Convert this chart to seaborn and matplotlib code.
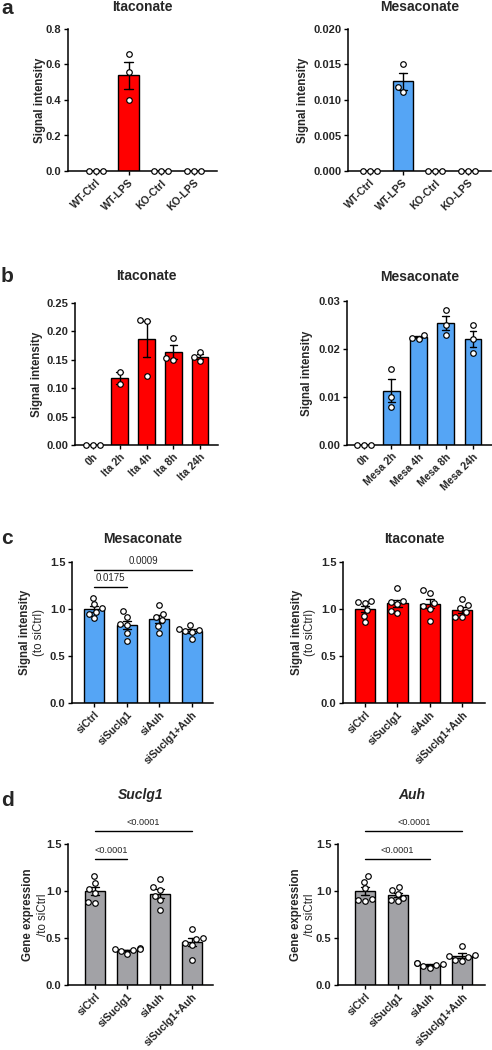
import matplotlib
matplotlib.use("Agg")
import matplotlib.pyplot as plt
from matplotlib.ticker import FormatStrFormatter, MultipleLocator
import pandas as pd
import seaborn as sns

RED = "#FF0000"
BLUE = "#55A5F5"
GREY = "#A2A2A6"

# ---- data ----
a_groups = ["WT-Ctrl", "WT-LPS", "KO-Ctrl", "KO-LPS"]
a_ita = [[0, 0, 0], [0.66, 0.56, 0.40], [0, 0, 0], [0, 0, 0]]
a_mesa = [[0, 0, 0], [0.0150, 0.0118, 0.0111], [0, 0, 0], [0, 0, 0]]

b_ita_groups = ["0h", "Ita 2h", "Ita 4h", "Ita 8h", "Ita 24h"]
b_ita = [[0, 0, 0], [0.128, 0.107], [0.220, 0.218, 0.122],
         [0.189, 0.150, 0.153], [0.164, 0.155, 0.148]]
b_mesa_groups = ["0h", "Mesa 2h", "Mesa 4h", "Mesa 8h", "Mesa 24h"]
b_mesa = [[0, 0, 0], [0.0159, 0.0100, 0.0080], [0.0230, 0.0223, 0.0221],
          [0.0282, 0.0251, 0.0230], [0.0251, 0.0220, 0.0191]]

si_groups = ["siCtrl", "siSuclg1", "siAuh", "siSuclg1+Auh"]
c_mesa = [[1.12, 1.05, 1.01, 0.97, 0.95, 0.90],
          [0.975, 0.915, 0.844, 0.833, 0.745, 0.66],
          [1.04, 0.95, 0.92, 0.88, 0.82, 0.75],
          [0.83, 0.79, 0.78, 0.77, 0.76, 0.68]]
c_ita = [[1.09, 1.07, 1.06, 0.99, 0.93, 0.86],
         [1.22, 1.09, 1.07, 1.05, 0.98, 0.96],
         [1.20, 1.17, 1.06, 1.03, 1.00, 0.87],
         [1.11, 1.04, 1.01, 0.97, 0.92, 0.91]]
d_suclg1 = [[1.16, 1.09, 1.02, 0.98, 0.88, 0.87],
            [0.39, 0.38, 0.38, 0.37, 0.36, 0.33],
            [1.13, 1.04, 1.01, 0.95, 0.90, 0.80],
            [0.60, 0.50, 0.49, 0.45, 0.43, 0.27]]
d_auh = [[1.16, 1.10, 1.03, 0.92, 0.90, 0.89],
         [1.04, 1.01, 0.97, 0.93, 0.90, 0.89],
         [0.23, 0.23, 0.22, 0.21, 0.20, 0.18],
         [0.42, 0.32, 0.31, 0.30, 0.27, 0.26]]

c_mesa_sig = [(0, 1, "0.0175"), (0, 3, "0.0009")]
d_suclg1_sig = [(0, 1, "<0.0001"), (0, 3, "<0.0001")]
d_auh_sig = [(0, 2, "<0.0001"), (0, 3, "<0.0001")]

W, H = 492, 1050

sns.set_theme(style="ticks")
plt.rcParams["font.family"] = ["Liberation Sans", "DejaVu Sans"]
plt.rcParams["font.weight"] = "bold"
plt.rcParams["axes.labelweight"] = "bold"

fig = plt.figure(figsize=(W / 100, H / 100), dpi=100)


def px_rect(x0, y0, x1, y1):
    return [x0 / W, 1 - y1 / H, (x1 - x0) / W, (y1 - y0) / H]


def to_long(groups, values):
    rows = [(g, v) for g, vals in zip(groups, values) for v in vals]
    return pd.DataFrame(rows, columns=["group", "value"])


def panel(box, groups, values, color, ylim, step, fmt, xlim):
    ax = fig.add_axes(px_rect(*box))
    df = to_long(groups, values)
    sns.barplot(data=df, x="group", y="value", order=groups, color=color,
                saturation=1, width=0.62, errorbar="se", capsize=0.25,
                edgecolor="black", linewidth=1.0,
                err_kws={"color": "black", "linewidth": 1.0}, ax=ax)
    sns.swarmplot(data=df, x="group", y="value", order=groups, color="white",
                  edgecolor="black", linewidth=0.85, size=4.0, ax=ax,
                  zorder=4, clip_on=False)
    ax.set_ylim(*ylim)
    ax.set_xlim(*xlim)
    ax.yaxis.set_major_locator(MultipleLocator(step))
    ax.yaxis.set_major_formatter(FormatStrFormatter(fmt))
    ax.set_xlabel("")
    ax.set_ylabel("")
    sns.despine(ax=ax)
    for s in ("left", "bottom"):
        ax.spines[s].set_linewidth(1.1)
        ax.spines[s].set_color("black")
    ax.tick_params(axis="both", length=3.2, width=1.0, color="black",
                   labelsize=8, pad=1.5)
    ax.tick_params(axis="x", labelsize=7.6, pad=1.5)
    plt.setp(ax.get_xticklabels(), rotation=45, ha="right",
             rotation_mode="anchor", fontweight="bold")
    plt.setp(ax.get_yticklabels(), fontweight="bold")
    return ax


def ylabels(ax, lines):
    # lines: (text, offset in px from spine, weight)
    for text, off, weight in lines:
        ax.annotate(text, xy=(0, 0.5), xycoords="axes fraction",
                    xytext=(-off * 0.72, 0), textcoords="offset points",
                    rotation=90, ha="center", va="center",
                    fontsize=8.3, fontweight=weight)


def sig(ax, pairs, heights, fs):
    for (i, j, label), h in zip(pairs, heights):
        ax.plot([i, j], [h, h], color="black", lw=1.0, clip_on=False)
        ax.text((i + j) / 2, h + 0.045, label, ha="center", va="bottom",
                fontsize=fs, fontweight="normal", clip_on=False)


def title(box, y, text, style="normal"):
    fig.text((box[0] + box[2]) / 2 / W, 1 - y / H, text, ha="center",
             va="center", fontsize=10, fontweight="bold", fontstyle=style)


def letter(y, text):
    fig.text(1 / W, 1 - y / H, text, ha="left", va="center",
             fontsize=15, fontweight="bold")


# ---- a ----
box = (68, 29, 217, 171)
ax = panel(box, a_groups, a_ita, RED, (0, 0.8), 0.2, "%.1f", (-0.85, 3.7))
ylabels(ax, [("Signal intensity", 28, "bold")])
title(box, 7, "Itaconate")
box = (348, 29, 491, 171)
ax = panel(box, a_groups, a_mesa, BLUE, (0, 0.02), 0.005, "%.3f", (-0.67, 3.7))
ylabels(ax, [("Signal intensity", 45, "bold")])
title(box, 7, "Mesaconate")
letter(9, "a")

# ---- b ----
box = (75, 303, 218, 445)
ax = panel(box, b_ita_groups, b_ita, RED, (0, 0.25), 0.05, "%.2f", (-0.67, 4.67))
ylabels(ax, [("Signal intensity", 38, "bold")])
title(box, 276, "Itaconate")
box = (347, 301, 492, 445)
ax = panel(box, b_mesa_groups, b_mesa, BLUE, (0, 0.03), 0.01, "%.2f", (-0.63, 4.7))
ylabels(ax, [("Signal intensity", 40, "bold")])
title(box, 277, "Mesaconate")
letter(277, "b")

# ---- c ----
box = (72, 562, 213, 703)
ax = panel(box, si_groups, c_mesa, BLUE, (0, 1.5), 0.5, "%.1f", (-0.68, 3.65))
ylabels(ax, [("Signal intensity", 47, "bold"), ("(to siCtrl)", 33, "normal")])
sig(ax, c_mesa_sig, [1.234, 1.415], 7)
title(box, 539, "Mesaconate")
box = (343, 562, 485, 703)
ax = panel(box, si_groups, c_ita, RED, (0, 1.5), 0.5, "%.1f", (-0.68, 3.7))
ylabels(ax, [("Signal intensity", 46, "bold"), ("(to siCtrl)", 33, "normal")])
title(box, 539, "Itaconate")
letter(539, "c")

# ---- d ----
box = (68, 844, 213, 985)
ax = panel(box, si_groups, d_suclg1, GREY, (0, 1.5), 0.5, "%.1f", (-0.84, 3.65))
ylabels(ax, [("Gene expression", 40, "bold"), ("/to siCtrl", 25, "normal")])
sig(ax, d_suclg1_sig, [1.34, 1.64], 6.6)
title(box, 795, "Suclg1", "italic")
box = (338, 844, 485, 985)
ax = panel(box, si_groups, d_auh, GREY, (0, 1.5), 0.5, "%.1f", (-0.84, 3.7))
ylabels(ax, [("Gene expression", 42, "bold"), ("/to siCtrl", 28, "normal")])
sig(ax, d_auh_sig, [1.34, 1.64], 6.6)
title(box, 795, "Auh", "italic")
letter(800, "d")

fig.savefig("out.png", dpi=100, facecolor="white")
